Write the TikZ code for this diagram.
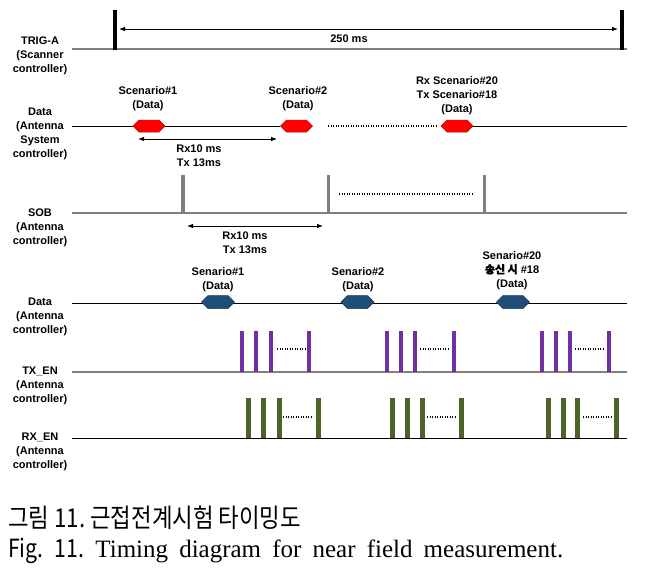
\documentclass[tikz,border=0pt]{standalone}
\usepackage{fontspec}
\setmainfont{Liberation Sans}
\newfontfamily\kr{Noto Sans CJK KR}
\newfontfamily\krb{Noto Sans CJK KR}[FakeBold=1.5]
\newfontfamily\capserif{Liberation Serif}
\usetikzlibrary{shapes.symbols,arrows.meta}
\definecolor{hexblue}{HTML}{1F4E79}
\definecolor{txpurple}{HTML}{7030A0}
\definecolor{rxgreen}{HTML}{4F6228}
\definecolor{sobgray}{HTML}{808080}
\begin{document}
\begin{tikzpicture}[x=1pt,y=-1pt,
  lbl/.style={align=center,inner sep=0pt,font=\fontsize{11}{14}\selectfont\bfseries},
  sigline/.style={line width=1pt},
  grayline/.style={line width=1.6pt,color=sobgray},
  hexred/.style={signal,signal to=east and west,draw=red!80!black,fill=red,
     minimum width=32pt,minimum height=12pt,inner sep=0pt,line width=0.5pt},
  hexblu/.style={signal,signal to=east and west,draw=hexblue!70!black,fill=hexblue,
     minimum width=33pt,minimum height=13pt,inner sep=0pt,line width=0.5pt},
  dimarrow/.style={{Latex[length=6pt,width=4.5pt]}-{Latex[length=6pt,width=4.5pt]},line width=0.8pt},
  dots/.style={line width=1.2pt,dash pattern=on 1.2pt off 1.3pt},
  trigbar/.style={line width=3.5pt,color=black},
  sobbar/.style={line width=3.5pt,color=sobgray},
  txbar/.style={line width=4pt,color=txpurple},
  rxbar/.style={line width=5pt,color=rxgreen}]
\useasboundingbox (0,0) rectangle (647,574);

% ---------- left labels ----------
\node[lbl] (lTrig) at (40,56) {TRIG-A\\(Scanner\\controller)};
\node[lbl] (lData) at (40,134) {Data\\(Antenna\\System\\controller)};
\node[lbl] (lSob) at (40,228) {SOB\\(Antenna\\controller)};
\node[lbl] (lData2) at (40,317) {Data\\(Antenna\\controller)};
\node[lbl] (lTx) at (40,386) {TX\_EN\\(Antenna\\controller)};
\node[lbl] (lRx) at (40,452) {RX\_EN\\(Antenna\\controller)};

% ---------- TRIG-A ----------
\coordinate (t0) at (72,49); \coordinate (t1) at (627,49);
\draw[grayline,line width=1.2pt] (t0) -- (t1);
\coordinate (ta0) at (115,10); \coordinate (ta1) at (115,50);
\coordinate (tb0) at (622,10); \coordinate (tb1) at (622,50);
\draw[trigbar] (ta0) -- (ta1);
\draw[trigbar] (tb0) -- (tb1);
\coordinate (ar0) at (119,29); \coordinate (ar1) at (618,29);
\draw[dimarrow] (ar0) -- (ar1);
\node[lbl] (t250) at (349,39) {250 ms};

% ---------- Data (Antenna System controller) ----------
\coordinate (d0) at (72,126); \coordinate (d1) at (627,126);
\node[hexred] (h1) at (149,126) {};
\node[hexred] (h2) at (296.5,126) {};
\node[hexred] (h3) at (457,126) {};
\draw[sigline] (d0) -- (h1.west);
\draw[sigline] (h1.east) -- (h2.west);
\draw[sigline] (h3.east) -- (d1);
\coordinate (dd0) at (328,126); \coordinate (dd1) at (437,126);
\draw[dots] (dd0) -- (dd1);
\node[lbl] (s1) at (148,99) {Scenario\#1\\(Data)};
\node[lbl] (s2) at (298,99) {Scenario\#2\\(Data)};
\node[lbl] (s3) at (457,96) {Rx Scenario\#20\\Tx Scenario\#18\\(Data)};
\coordinate (ra0) at (138,139); \coordinate (ra1) at (277,139);
\draw[dimarrow] (ra0) -- (ra1);
\node[lbl] (rx1) at (199,156) {Rx10 ms\\Tx 13ms};

% ---------- SOB ----------
\coordinate (sb0) at (72,213); \coordinate (sb1) at (627,213);
\draw[grayline] (sb0) -- (sb1);
\foreach \x [count=\i] in {183,328.5,484.5}{
  \coordinate (sbt\i) at (\x,175); \coordinate (sbb\i) at (\x,213);
  \draw[sobbar] (sbt\i) -- (sbb\i);
}
\coordinate (sd0) at (339,194); \coordinate (sd1) at (473,194);
\draw[dots] (sd0) -- (sd1);
\coordinate (rb0) at (187,226); \coordinate (rb1) at (323,226);
\draw[dimarrow] (rb0) -- (rb1);
\node[lbl] (rx2) at (245,243) {Rx10 ms\\Tx 13ms};

% ---------- Data (Antenna controller) ----------
\coordinate (e0) at (72,303); \coordinate (e1) at (627,303);
\draw[sigline] (e0) -- (e1);
\node[hexblu] (b1) at (218,302) {};
\node[hexblu] (b2) at (357.5,302) {};
\node[hexblu] (b3) at (513,302) {};
\node[lbl] (n1) at (218,280) {Senario\#1\\(Data)};
\node[lbl] (n2) at (358,280) {Senario\#2\\(Data)};
\node[lbl] (n3) at (512,270.5) {Senario\#20\\{\krb 송신 시} \#18\\(Data)};

% ---------- TX_EN ----------
\coordinate (x0) at (72,372); \coordinate (x1) at (627,372);
\draw[grayline] (x0) -- (x1);
\foreach \x [count=\i] in {242,256,270.5,309,387,401,415,454,542,556,570,609}{
  \coordinate (txt\i) at (\x,331); \coordinate (txb\i) at (\x,372);
  \draw[txbar] (txt\i) -- (txb\i);
}
\foreach \a/\b [count=\i] in {277/305,420/449,575/604}{
  \coordinate (txd\i a) at (\a,349); \coordinate (txd\i b) at (\b,349);
  \draw[dots] (txd\i a) -- (txd\i b);
}

% ---------- RX_EN ----------
\coordinate (y0) at (72,438); \coordinate (y1) at (627,438);
\draw[sigline] (y0) -- (y1);
\foreach \x [count=\i] in {248,263,279,318,392,407,422,461,548,563,577,616}{
  \coordinate (rxt\i) at (\x,398); \coordinate (rxb\i) at (\x,438);
  \draw[rxbar] (rxt\i) -- (rxb\i);
}
\foreach \a/\b [count=\i] in {283/313,427/456,583/612}{
  \coordinate (rxd\i a) at (\a,417); \coordinate (rxd\i b) at (\b,417);
  \draw[dots] (rxd\i a) -- (rxd\i b);
}

% ---------- caption ----------
\node[anchor=base west,inner sep=0pt] (capk) at (8,527)
  {\scalebox{0.86}[1]{\fontsize{26}{26}\selectfont\kr 그림 11.\ 근접전계시험 타이밍도}};
\node[anchor=base west,inner sep=0pt] (cape) at (8,557)
  {\fontsize{25}{25}\selectfont\capserif\makebox[555pt][s]{\scalebox{0.85}[1]{\kr Fig.} \scalebox{0.85}[1]{\kr 11.} Timing diagram for near field measurement.}};
\end{tikzpicture}
\end{document}
